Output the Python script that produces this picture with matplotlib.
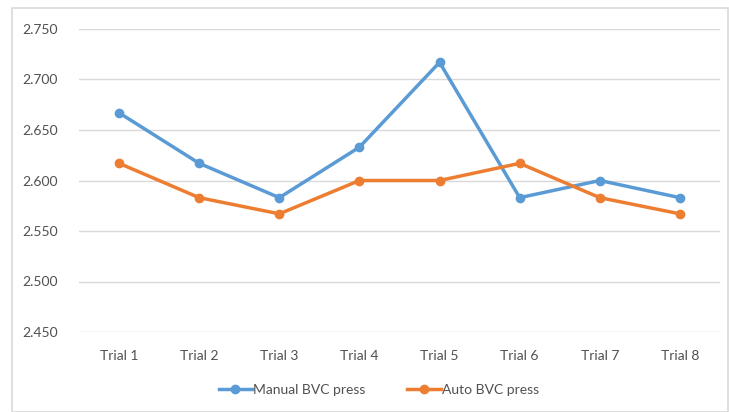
import matplotlib.pyplot as plt
from matplotlib.patches import Rectangle

trials = ['Trial 1', 'Trial 2', 'Trial 3', 'Trial 4', 'Trial 5', 'Trial 6', 'Trial 7', 'Trial 8']
manual = [2.667, 2.617, 2.583, 2.633, 2.717, 2.583, 2.600, 2.583]
auto = [2.617, 2.583, 2.567, 2.600, 2.600, 2.617, 2.583, 2.567]
yticks = [2.450, 2.500, 2.550, 2.600, 2.650, 2.700, 2.750]

plt.rcParams['font.family'] = ['Lato', 'DejaVu Sans']

fig = plt.figure(figsize=(7.29, 4.12), dpi=100)
W, H = 729, 412
ax = fig.add_axes([79 / W, 1 - 332 / H, (720 - 79) / W, (332 - 29) / H])

# outer chart border
fig.patches.append(Rectangle((12 / W, 0), (728 - 12) / W, 1 - 8 / H, transform=fig.transFigure,
                             fill=False, edgecolor='#D9D9D9', linewidth=1.2))

x = list(range(len(trials)))
ax.plot(x, manual, color='#5B9BD5', linewidth=2.5, marker='o', markersize=6, label='Manual BVC press')
ax.plot(x, auto, color='#ED7D31', linewidth=2.5, marker='o', markersize=6, label='Auto BVC press')

ax.set_xlim(-0.5, len(trials) - 0.5)
ax.set_ylim(2.450, 2.750)
ax.set_yticks(yticks)
ax.set_yticklabels(['%.3f' % v for v in yticks])
ax.set_xticks(x)
ax.set_xticklabels(trials)
ax.grid(axis='y', color='#D9D9D9', linewidth=1.0)
ax.set_axisbelow(True)
for s in ax.spines.values():
    s.set_visible(False)
ax.tick_params(length=0, labelsize=10, colors='#505050', labelcolor='#505050')
ax.tick_params(axis='y', pad=15)
ax.tick_params(axis='x', pad=13)

fig.legend(loc='center', bbox_to_anchor=(379 / W, 1 - 390 / H), ncol=2, frameon=False,
           fontsize=10, labelcolor='#505050', handlelength=2.4, handletextpad=0.1, columnspacing=3.0)

plt.savefig('out.png', dpi=100)
